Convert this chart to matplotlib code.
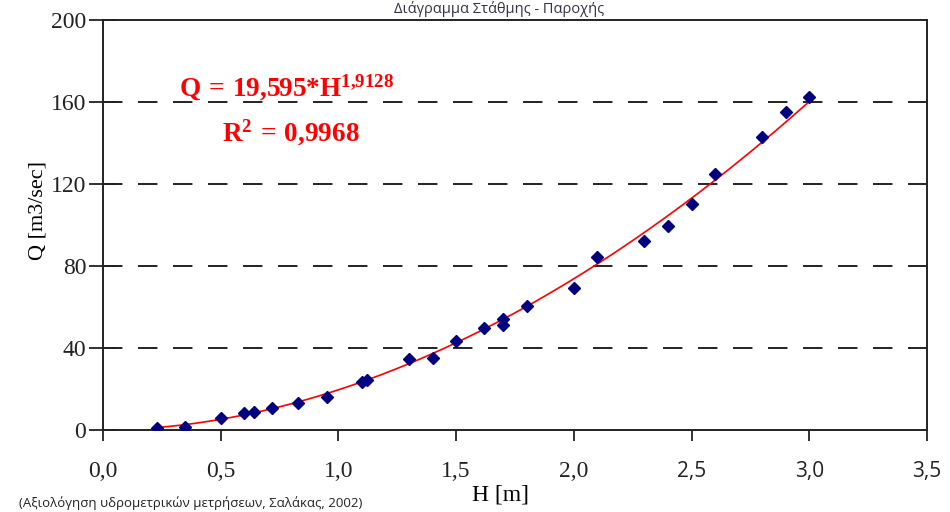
import numpy as np
import matplotlib.pyplot as plt

H = [0.23, 0.35, 0.50, 0.60, 0.64, 0.72, 0.83, 0.95, 1.10, 1.12,
     1.30, 1.40, 1.50, 1.62, 1.70, 1.70, 1.80, 2.00, 2.10, 2.30,
     2.40, 2.50, 2.60, 2.80, 2.90, 3.00]
Q = [0.8, 1.5, 5.9, 8.3, 8.8, 10.7, 13.2, 16.1, 23.4, 24.5,
     34.6, 35.1, 43.4, 49.8, 51.2, 54.1, 60.5, 69.3, 84.4, 92.2,
     99.5, 110.0, 125.0, 143.0, 155.0, 162.5]

# power trendline shown on the chart
coef_a = 19.595
coef_b = 1.9128
r2 = 0.9968

x_ticks = [0.0, 0.5, 1.0, 1.5, 2.0, 2.5, 3.0, 3.5]
y_ticks = [0, 40, 80, 120, 160, 200]

serif = 'Liberation Serif'
sans = 'Open Sans'

plt.rcParams['mathtext.fontset'] = 'custom'
plt.rcParams['mathtext.rm'] = 'Liberation Serif:bold'
plt.rcParams['mathtext.bf'] = 'Liberation Serif:bold'
plt.rcParams['mathtext.it'] = 'Liberation Serif:bold'

fig = plt.figure(figsize=(9.5, 5.12), dpi=100)
ax = fig.add_axes([0.1084, 0.1602, 0.8674, 0.8008])

hh = np.linspace(min(H), max(H), 200)
ax.plot(hh, coef_a * hh ** coef_b, color='red', lw=1.2, zorder=2)
ax.plot(H, Q, ls='none', marker='D', ms=6.5, color='#000080', zorder=3)

ax.set_xlim(0, 3.5)
ax.set_ylim(0, 200)
ax.set_xticks(x_ticks)
ax.set_yticks(y_ticks)
ax.set_xticklabels([f'{t:.1f}'.replace('.', ',') for t in x_ticks])
ax.set_yticklabels([str(t) for t in y_ticks])

for i, lab in enumerate(ax.get_xticklabels()):
    if x_ticks[i] > 2.0:
        lab.set_fontfamily(sans)
        lab.set_fontsize(15)
        lab.set_color('#222222')
    else:
        lab.set_fontfamily(serif)
        lab.set_fontsize(17)
for lab in ax.get_yticklabels():
    lab.set_fontfamily(serif)
    lab.set_fontsize(17)

ax.tick_params(axis='x', direction='out', length=8, width=1.3, pad=14, colors='#222222')
ax.tick_params(axis='y', direction='inout', length=20, width=1.3, pad=2, colors='#222222')

for y in y_ticks[1:-1]:
    ax.axhline(y, color='#222222', lw=1.4, dashes=(10, 8), zorder=1)

for s in ax.spines.values():
    s.set_linewidth(1.4)
    s.set_color('#222222')

ax.set_ylabel('Q [m3/sec]', fontfamily=serif, fontsize=16)
ax.yaxis.set_label_coords(-0.067, 0.535)
fig.text(0.527, 0.033, 'H [m]', fontfamily=serif, fontsize=17, ha='center', va='center')

ax.text(0.092, 0.835, r'$\mathbf{Q\,=\,19{,}595{*}H^{1{,}9128}}$', transform=ax.transAxes,
        color='red', fontsize=19.5, va='center')
ax.text(0.144, 0.725, r'$\mathbf{R^{2}\,=\,0{,}9968}$', transform=ax.transAxes,
        color='red', fontsize=19.5, ha='left', va='center')

# title and source note (cut by the crop in the original, kept small here)
fig.text(0.525, 0.998, 'Διάγραμμα Στάθμης - Παροχής', fontfamily=sans, fontsize=10.5,
         color='#333344', ha='center', va='top')
fig.text(0.02, 0.004, '(Αξιολόγηση υδρομετρικών μετρήσεων, Σαλάκας, 2002)', fontfamily=sans,
         fontsize=9.5, color='#222222', ha='left', va='bottom')

fig.savefig('out.png', dpi=100)
